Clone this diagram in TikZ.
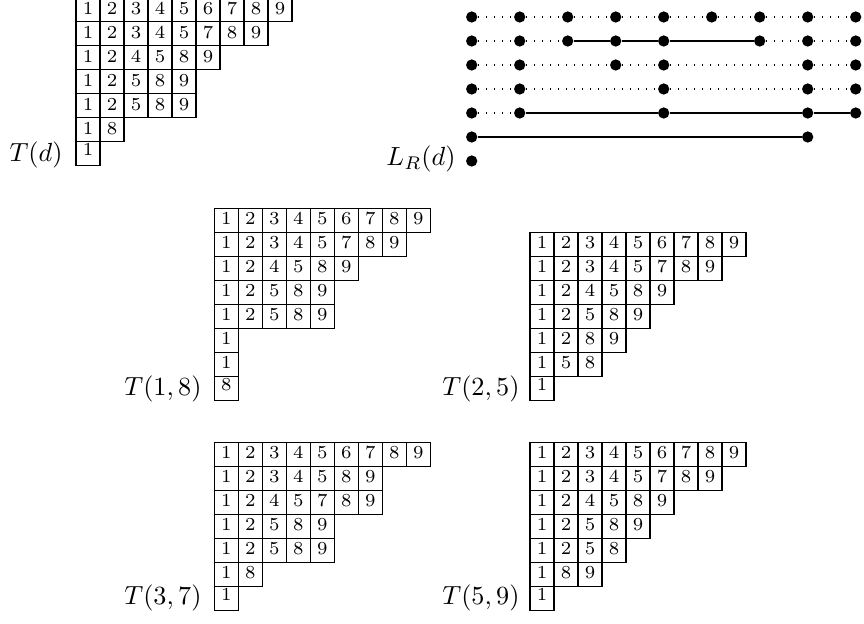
\documentclass[tikz,border=0pt]{standalone}
\newcommand\drawtableau[5]{%
  \foreach \row [count=\r] in {#5}{%
    \pgfmathsetmacro\tdp{ifthenelse(\r==#4,3,1)}%
    \foreach \v [count=\c] in \row {%
      \node[cell, text depth=\tdp pt] (#1-\r-\c) at ({#2+(\c-0.5)*24},{#3+(\r-0.5)*24}) {\v};
    }%
  }%
}
\newcommand\vrow[2]{%
  \foreach \k in {#2}{\node[vtx] (g-#1-\k) at ({471.7+48*(\k-1)},{17+24*(#1-1)}) {};}%
}
\begin{document}
\begin{tikzpicture}[x=0.3817pt,y=-0.3817pt,
  cell/.style={draw, line width=0.4pt, minimum width=9.16pt, minimum height=9.16pt, inner sep=0pt, outer sep=0pt, font=\scriptsize, text height=4.5pt},
  vtx/.style={circle, fill=black, inner sep=0pt, minimum size=4.3pt},
  dotline/.style={line width=0.45pt, dash pattern=on 0.45pt off 2.6pt},
  solidline/.style={line width=0.6pt},
  lbl/.style={anchor=base east, inner sep=0pt}]
\useasboundingbox (0,0) rectangle (864,624);
\clip (0,0) rectangle (864,624);

% T(d)
\drawtableau{d}{76}{-2.3}{7}{{1,2,3,4,5,6,7,8,9},{1,2,3,4,5,7,8,9},{1,2,4,5,8,9},{1,2,5,8,9},{1,2,5,8,9},{1,8},{1}}
\node[lbl] (lTd) at (63,161) {$T(d)$};

% L_R(d)
\vrow{1}{1,2,3,4,5,6,7,8,9}
\vrow{2}{1,2,3,4,5,7,8,9}
\vrow{3}{1,2,4,5,8,9}
\vrow{4}{1,2,5,8,9}
\vrow{5}{1,2,5,8,9}
\vrow{6}{1,8}
\vrow{7}{1}
\foreach \a/\b in {1/2,2/3,3/4,4/5,5/6,6/7,7/8,8/9} \draw[dotline] (g-1-\a) -- (g-1-\b);
\foreach \a/\b in {1/2,2/3,7/8,8/9} \draw[dotline] (g-2-\a) -- (g-2-\b);
\foreach \a/\b in {3/4,4/5,5/7} \draw[solidline] (g-2-\a) -- (g-2-\b);
\foreach \a/\b in {1/2,2/4,4/5,5/8,8/9} \draw[dotline] (g-3-\a) -- (g-3-\b);
\foreach \a/\b in {1/2,2/5,5/8,8/9} \draw[dotline] (g-4-\a) -- (g-4-\b);
\draw[dotline] (g-5-1) -- (g-5-2);
\foreach \a/\b in {2/5,5/8,8/9} \draw[solidline] (g-5-\a) -- (g-5-\b);
\draw[solidline] (g-6-1) -- (g-6-8);
\node[lbl] (lLR) at (456,166) {$L_R(d)$};

% T(1,8)
\drawtableau{a}{214.3}{208.3}{8}{{1,2,3,4,5,6,7,8,9},{1,2,3,4,5,7,8,9},{1,2,4,5,8,9},{1,2,5,8,9},{1,2,5,8,9},{1},{1},{8}}
\node[lbl] (la) at (202,395) {$T(1,8)$};

% T(2,5)
\drawtableau{b}{530}{232.3}{7}{{1,2,3,4,5,6,7,8,9},{1,2,3,4,5,7,8,9},{1,2,4,5,8,9},{1,2,5,8,9},{1,2,8,9},{1,5,8},{1}}
\node[lbl] (lb) at (520,395) {$T(2,5)$};

% T(3,7)
\drawtableau{c}{214.3}{442.3}{7}{{1,2,3,4,5,6,7,8,9},{1,2,3,4,5,8,9},{1,2,4,5,7,8,9},{1,2,5,8,9},{1,2,5,8,9},{1,8},{1}}
\node[lbl] (lc) at (202,605) {$T(3,7)$};

% T(5,9)
\drawtableau{e}{530}{442.3}{7}{{1,2,3,4,5,6,7,8,9},{1,2,3,4,5,7,8,9},{1,2,4,5,8,9},{1,2,5,8,9},{1,2,5,8},{1,8,9},{1}}
\node[lbl] (le) at (520,605) {$T(5,9)$};
\end{tikzpicture}
\end{document}
